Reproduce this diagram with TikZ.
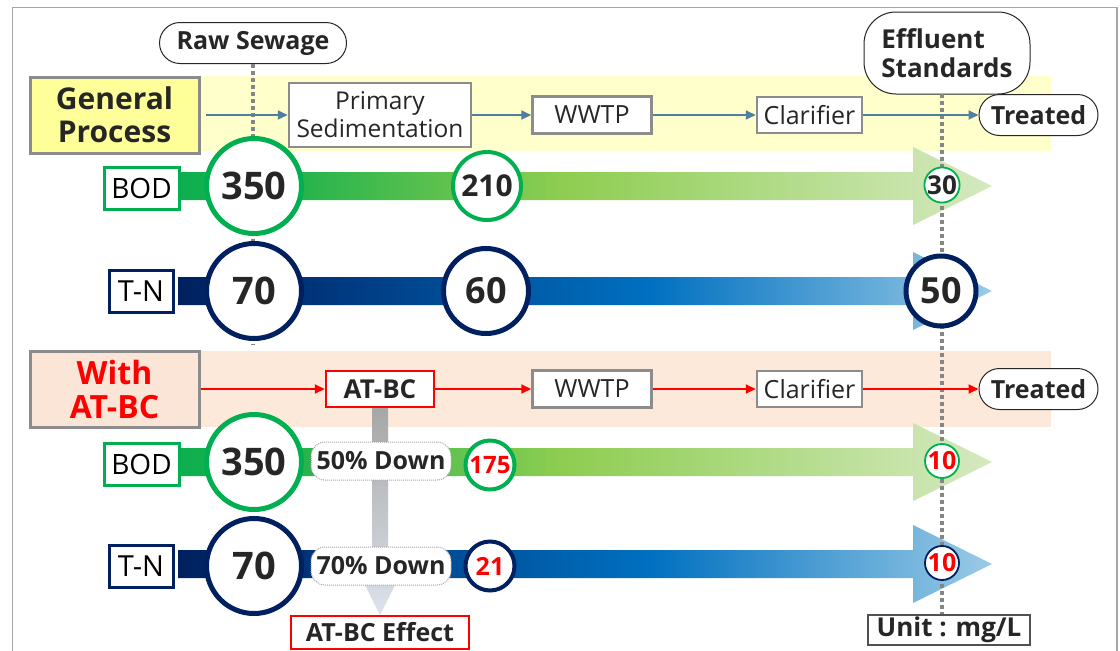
\documentclass[tikz,border=0pt]{standalone}
\usepackage{fontspec}
\setmainfont{Open Sans}
\usetikzlibrary{arrows.meta,shapes.misc,shapes.geometric}
\definecolor{frameC}{HTML}{A6A6A6}
\definecolor{boxG}{HTML}{8C8C8C}
\definecolor{bandY}{HTML}{FFFFCC}
\definecolor{boxY}{HTML}{FFFF99}
\definecolor{bandP}{HTML}{FCE9DA}
\definecolor{boxP}{HTML}{FBE5D6}
\definecolor{steel}{HTML}{507FA0}
\definecolor{grn}{HTML}{00B050}
\definecolor{navy}{HTML}{002060}
\definecolor{txt}{HTML}{262626}
\definecolor{redC}{HTML}{FF0000}
\definecolor{gA}{HTML}{0DAF4F}
\definecolor{gAB}{HTML}{22B34C}
\definecolor{gB}{HTML}{8DCD50}
\definecolor{gC}{HTML}{D5E9C0}
\definecolor{nA}{HTML}{00215F}
\definecolor{nAB}{HTML}{002A6E}
\definecolor{nB}{HTML}{0066B4}
\definecolor{nBC}{HTML}{0070C0}
\definecolor{nC}{HTML}{9ACBE6}
\definecolor{arrG1}{HTML}{A6A6A6}
\definecolor{arrG2}{HTML}{DCE3EC}
\pgfdeclarehorizontalshading{bodsh}{100bp}{color(0bp)=(gA); color(25bp)=(gA); color(32bp)=(gAB); color(48.5bp)=(gB); color(75bp)=(gC); color(100bp)=(gC)}
\pgfdeclarehorizontalshading{tnsh}{100bp}{color(0bp)=(nA); color(25bp)=(nA); color(30bp)=(nAB); color(50bp)=(nB); color(54bp)=(nBC); color(75bp)=(nC); color(100bp)=(nC)}
\newcommand{\fsz}[2]{\fontsize{#1}{#2}\selectfont}
\tikzset{
  procbox/.style={draw=boxG, line width=2.5pt, fill=white, inner sep=0pt, text=txt, font=\fsz{25}{29}},
  pillbox/.style={rounded rectangle, draw=txt, line width=1pt, fill=white, inner sep=0pt, text=txt, font=\bfseries\fsz{25}{28}},
  titlebox/.style={draw=boxG, line width=3pt, inner sep=0pt, minimum width=169pt, minimum height=76pt, align=center, font=\bfseries\fsz{30}{33}},
  rowlab/.style={line width=3pt, fill=white, inner sep=0pt, minimum height=42pt, text=black, font=\fsz{28}{30}},
  valc/.style={circle, fill=white, inner sep=0pt, text=txt, font=\bfseries\fsz{#1}{#1}},
  dotline/.style={draw=gray!95, line width=3.5pt, dash pattern=on 4pt off 3pt},
  steelarrow/.style={draw=steel, line width=1.8pt, -{Triangle[length=10pt,width=9pt]}},
  redarrow/.style={draw=redC, line width=1.8pt, -{Triangle[length=10pt,width=9pt]}},
  downpill/.style={rounded corners=14pt, draw=gray!70, line width=1pt, dash pattern=on 1pt off 1pt, fill=white, inner sep=0pt, minimum width=140pt, minimum height=38pt, text=txt, font=\bfseries\fsz{25}{28}},
}
\begin{document}
\begin{tikzpicture}[x=1pt,y=-1pt]
\useasboundingbox (0,0) rectangle (1120,651);
\fill[white] (0,0) rectangle (1120,651);
% frame
\draw[frameC, line width=1.5pt] (12.5,651) -- (12.5,7.5) -- (1117,7.5) -- (1117,651);
% bands
\fill[bandY] (199,76) rectangle (1051,151);
\fill[bandP] (199,351) rectangle (1051,427);
% bars
\path[shading=bodsh] (178,172) -- (913,172) -- (913,147) -- (992,186) -- (913,225) -- (913,200) -- (178,200) -- cycle;
\path[shading=tnsh] (178,277) -- (913,277) -- (913,252) -- (992,291) -- (913,330) -- (913,305) -- (178,305) -- cycle;
\path[shading=bodsh] (178,448) -- (913,448) -- (913,423) -- (992,462) -- (913,501) -- (913,476) -- (178,476) -- cycle;
\path[shading=tnsh] (178,550) -- (913,550) -- (913,525) -- (992,564) -- (913,603) -- (913,578) -- (178,578) -- cycle;
% gray down arrow
\path[top color=arrG1, bottom color=arrG2] (372,407) -- (388,407) -- (388,585) -- (395,585) -- (380,615) -- (365,585) -- (372,585) -- cycle;
% top labels
\node[pillbox, minimum width=187pt, minimum height=41pt] (raw) at (253,43) {Raw Sewage};
\node[draw=txt, line width=1pt, rounded corners=32pt, fill=white, inner sep=0pt, minimum width=166pt, minimum height=82pt, align=left, text=txt, font=\bfseries\fsz{26}{29}] (eff) at (947,53) {Effluent\\Standards};
\node[draw=txt!80, line width=1.5pt, fill=white, inner sep=0pt, minimum width=162pt, minimum height=30pt, text=txt, font=\bfseries\fsz{26}{28}] (unit) at (949,630) {Unit : mg/L};
% dotted lines
\coordinate (rawEnd) at (253,345);
\coordinate (effTop) at (942,94);
\draw[dotline] (raw.south) -- (rawEnd);
\draw[dotline] (effTop) -- (effTop |- unit.north);
% general process row
\node[titlebox, fill=boxY, text=txt] (gp) at (114.5,115) {General\\Process};
\node[procbox, minimum width=182pt, minimum height=64pt, align=center, font=\fsz{24.5}{28}] (ps) at (380,115) {Primary\\Sedimentation};
\node[procbox, minimum width=119pt, minimum height=37pt] (ww1) at (592,115) {WWTP};
\node[procbox, minimum width=105pt, minimum height=36pt] (cl1) at (809.5,115) {Clarifier};
\node[pillbox, minimum width=119pt, minimum height=41pt] (tr1) at (1038.5,115) {Treated};
\draw[steelarrow, shorten <=5pt] (gp.east) -- (ps.west);
\draw[steelarrow] (ps.east) -- (ww1.west);
\draw[steelarrow] (ww1.east) -- (cl1.west);
\draw[steelarrow] (cl1.east) -- (tr1.west);
% with AT-BC row
\node[titlebox, fill=boxP, text=redC, font=\bfseries\fsz{32}{34}] (wa) at (114.5,389) {With\\AT-BC};
\node[procbox, draw=redC, minimum width=108pt, minimum height=36pt, font=\bfseries\fsz{26}{28}] (atbc) at (380,389) {AT-BC};
\node[procbox, minimum width=119pt, minimum height=37pt] (ww2) at (592,389) {WWTP};
\node[procbox, minimum width=105pt, minimum height=36pt] (cl2) at (809.5,389) {Clarifier};
\node[pillbox, minimum width=119pt, minimum height=41pt] (tr2) at (1038.5,389) {Treated};
\draw[redarrow] (wa.east) -- (atbc.west);
\draw[redarrow] (atbc.east) -- (ww2.west);
\draw[redarrow] (ww2.east) -- (cl2.west);
\draw[redarrow] (cl2.east) -- (tr2.west);
% row labels
\node[rowlab, draw=grn, minimum width=75pt] (bod1) at (141.5,188) {BOD};
\node[rowlab, draw=navy, minimum width=64pt, font=\fsz{29}{30}] (tn1) at (141,291) {T-N};
\node[rowlab, draw=grn, minimum width=75pt] (bod2) at (141.5,464) {BOD};
\node[rowlab, draw=navy, minimum width=64pt, font=\fsz{29}{30}] (tn2) at (141,566) {T-N};
% circles general
\node[valc=38, draw=grn, line width=5pt, minimum size=95pt] (c350a) at (254,186) {350};
\node[valc=30, draw=grn, line width=4pt, minimum size=68pt] (c210) at (487,186) {210};
\node[valc=26, draw=grn, line width=1.8pt, minimum size=34pt] (c30) at (942,185) {30};
\node[valc=38, draw=navy, line width=5pt, minimum size=95pt] (c70a) at (254,291) {70};
\node[valc=36, draw=navy, line width=5pt, minimum size=85pt] (c60) at (486,291) {60};
\node[valc=36, draw=navy, line width=5pt, minimum size=70pt] (c50) at (941,291) {50};
% circles with AT-BC
\node[valc=38, draw=grn, line width=5pt, minimum size=95pt] (c350b) at (254,462) {350};
\node[valc=24, draw=grn, line width=4pt, minimum size=49pt, text=redC] (c175) at (490,465) {175};
\node[valc=25, draw=grn, line width=1.8pt, minimum size=34pt, text=redC] (c10a) at (942,461) {10};
\node[valc=38, draw=navy, line width=5pt, minimum size=95pt] (c70b) at (254,566) {70};
\node[valc=25, draw=navy, line width=4pt, minimum size=49pt, text=redC] (c21) at (490,566) {21};
\node[valc=25, draw=navy, line width=1.8pt, minimum size=34pt, text=redC] (c10b) at (942,563) {10};
% down pills
\node[downpill] (d50) at (381,461) {50\% Down};
\node[downpill] (d70) at (381,566) {70\% Down};
\node[draw=redC, line width=2.5pt, fill=white, inner sep=0pt, minimum width=178pt, minimum height=33pt, text=txt, font=\bfseries\fsz{25}{28}] (effect) at (380,632.5) {AT-BC Effect};
\end{tikzpicture}
\end{document}
